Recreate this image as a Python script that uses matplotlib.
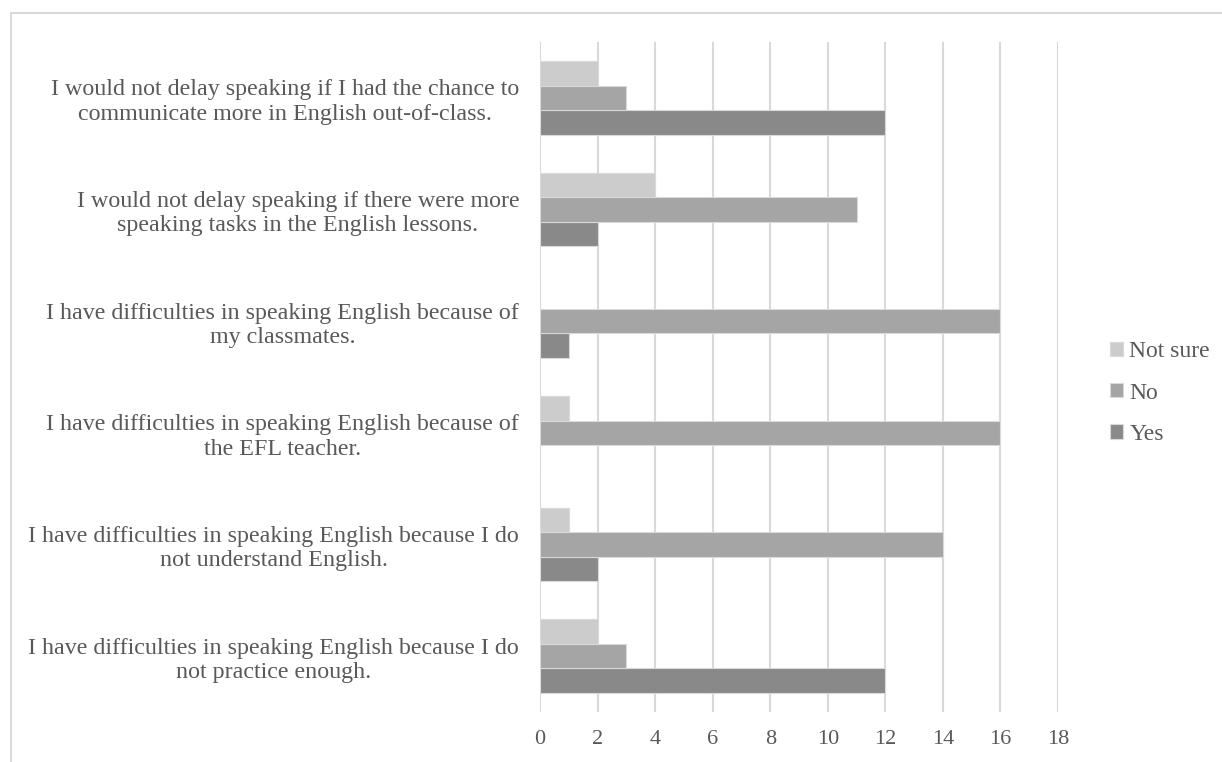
import matplotlib.pyplot as plt
import matplotlib.patches as mpatches
import numpy as np

plt.rcParams['font.family'] = ['Liberation Serif', 'DejaVu Serif']

# survey statements, bottom to top
etiquetas = [
    "I have difficulties in speaking English because I do\nnot practice enough.",
    "I have difficulties in speaking English because I do\nnot understand English.",
    "I have difficulties in speaking English because of\nthe EFL teacher.",
    "I have difficulties in speaking English because of\nmy classmates.",
    "I would not delay speaking if there were more\nspeaking tasks in the English lessons.",
    "I would not delay speaking if I had the chance to\ncommunicate more in English out-of-class.",
]
si = [12, 2, 0, 1, 2, 12]
no = [3, 14, 16, 16, 11, 3]
no_seguro = [2, 1, 1, 0, 4, 2]
ticks_x = [0, 2, 4, 6, 8, 10, 12, 14, 16, 18]

color_texto = "#595959"
fig = plt.figure(figsize=(12.22, 7.62), dpi=100)
ax = fig.add_axes([0.4419, 0.0656, 0.4239, 0.8793])

y = np.arange(len(etiquetas))
h = 0.22
ax.barh(y - h, si, height=h, color="#898989", edgecolor="#d9d9d9", linewidth=0.8, label="Yes", zorder=3)
ax.barh(y, no, height=h, color="#a5a5a5", edgecolor="#d9d9d9", linewidth=0.8, label="No", zorder=3)
ax.barh(y + h, no_seguro, height=h, color="#cccccc", edgecolor="#d9d9d9", linewidth=0.8, label="Not sure", zorder=3)

ax.set_xlim(0, 18)
ax.set_ylim(-0.5, len(etiquetas) - 0.5)
ax.set_xticks(ticks_x)
ax.set_yticks(y)
ax.set_yticklabels(etiquetas, multialignment="center")
ax.tick_params(axis="both", length=0, colors=color_texto)
ax.tick_params(axis="y", pad=15, labelsize=17.3)
ax.tick_params(axis="x", pad=13, labelsize=16)
ax.grid(axis="x", color="#d9d9d9", linewidth=1.5, zorder=0)
for s in ax.spines.values():
    s.set_visible(False)

handles, labels = ax.get_legend_handles_labels()
leg = ax.legend(handles[::-1], labels[::-1], loc="center left", bbox_to_anchor=(1.06, 0.476),
                frameon=False, fontsize=17, handlelength=0.55, handleheight=0.55,
                handletextpad=0.25, labelspacing=0.86, labelcolor=color_texto)

# outer chart frame
fig.patches.append(mpatches.Rectangle((11 / 1222, -0.1), 1.2, 1 - 13 / 762 + 0.1,
                                      transform=fig.transFigure, fill=False,
                                      edgecolor="#d9d9d9", linewidth=1.5))

fig.savefig("out.png", dpi=100)
